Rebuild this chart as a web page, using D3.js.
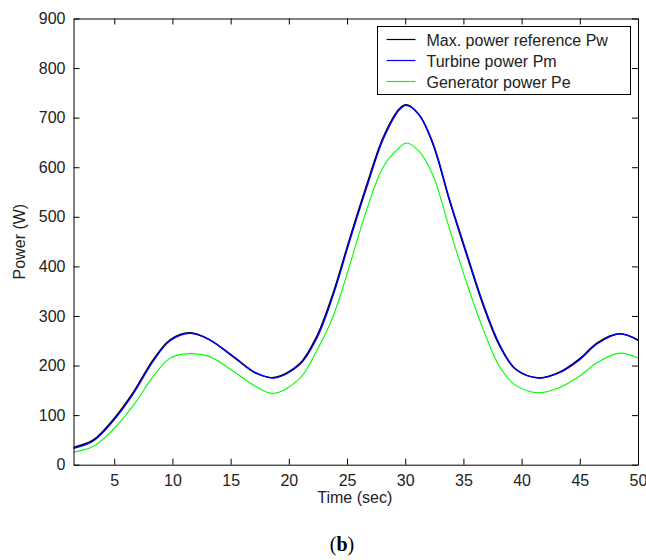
<!DOCTYPE html>
<html>
<head>
<meta charset="utf-8">
<script src="https://cdn.jsdelivr.net/npm/d3@7"></script>
<style>
	body { margin: 0; background: #fff; }
	svg text { font-family: "Liberation Sans", Arial, sans-serif; fill: #222; }
</style>
</head>
<body>
<svg width="646" height="560"></svg>
<script>
// values
var time = [1.5, 3.2, 4.9, 6.6, 8.35, 9.8, 11.5, 13.2, 15.2, 17.2, 18.7, 20.9, 22.4, 23.8, 25.2, 26.7,
	28.1, 29.5, 30.1, 31.2, 32.4, 33.8, 35.25, 36.7, 38.1, 39.5, 41.5, 43.2, 45, 46.5, 48.4, 50];
var pw = [35, 50, 91, 145, 212, 252, 266, 252, 218, 184, 176, 203, 259, 346, 454, 565,
	660, 718, 726, 705, 645, 533, 425, 321, 240, 192, 175, 186, 214, 246, 264, 251];
var pm = [33, 48, 88, 142, 209, 250, 265, 252, 219, 185, 175, 201, 255, 341, 449, 560,
	656, 716, 725, 706, 648, 536, 429, 325, 243, 193, 175, 185, 212, 244, 264, 252];
var pe = [25, 37, 71, 118, 178, 215, 224, 218, 189, 157, 144, 173, 230, 299, 400, 515,
	600, 640, 649, 632, 583, 476, 369, 273, 198, 160, 145, 155, 179, 206, 225, 215];

var xTicks = [5, 10, 15, 20, 25, 30, 35, 40, 45, 50];
var yTicks = [0, 100, 200, 300, 400, 500, 600, 700, 800, 900];

var seriesNames = ["Max. power reference Pw", "Turbine power Pm", "Generator power Pe"];
var seriesColors = ["#000000", "#0000ff", "#00ff00"];
var series = [pw, pm, pe];

var pLeft = 73.5, pRight = 638, pTop = 18.5, pBottom = 464.7;

var x = d3.scaleLinear().domain([1.5, 50]).range([pLeft, pRight]);
var y = d3.scaleLinear().domain([0, 900]).range([pBottom, pTop]);

var svg = d3.select("svg");

// curves
var line = d3.line()
	.x(function (d) { return x(d[0]); })
	.y(function (d) { return y(d[1]); })
	.curve(d3.curveCatmullRom.alpha(0.5));

series.forEach(function (vals, i) {
	svg.append("path")
		.datum(time.map(function (t, j) { return [t, vals[j]]; }))
		.attr("fill", "none")
		.attr("stroke", seriesColors[i])
		.attr("stroke-width", i == 2 ? 1.1 : 1.4)
		.attr("d", line);
});

// axes, ticks inward like matlab
var fs = 16;
svg.append("g")
	.attr("transform", "translate(0," + pBottom + ")")
	.call(d3.axisBottom(x).tickValues(xTicks).tickSizeInner(-6).tickSizeOuter(0).tickPadding(10))
	.call(function (g) { g.selectAll("text").attr("font-size", fs).attr("fill", "#222"); });
svg.append("g")
	.attr("transform", "translate(" + pLeft + ",0)")
	.call(d3.axisLeft(y).tickValues(yTicks).tickSizeInner(-6).tickSizeOuter(0).tickPadding(8))
	.call(function (g) { g.selectAll("text").attr("font-size", fs).attr("fill", "#222"); });
svg.append("g")
	.attr("transform", "translate(0," + pTop + ")")
	.call(d3.axisTop(x).tickValues(xTicks).tickSizeInner(-6).tickSizeOuter(0).tickFormat(""));
svg.append("g")
	.attr("transform", "translate(" + pRight + ",0)")
	.call(d3.axisRight(y).tickValues(yTicks).tickSizeInner(-6).tickSizeOuter(0).tickFormat(""));
svg.selectAll(".domain").attr("stroke", "#000");
svg.selectAll(".tick line").attr("stroke", "#000");

// axis labels
svg.append("text")
	.attr("x", (pLeft + pRight) / 2 - 1)
	.attr("y", 503)
	.attr("text-anchor", "middle")
	.attr("font-size", fs)
	.text("Time (sec)");
svg.append("text")
	.attr("transform", "translate(25," + (pTop + pBottom) / 2 + ") rotate(-90)")
	.attr("text-anchor", "middle")
	.attr("font-size", fs)
	.text("Power (W)");

// legend
var lg = svg.append("g").attr("transform", "translate(377.5,26.5)");
lg.append("rect")
	.attr("width", 253).attr("height", 68)
	.attr("fill", "#fff").attr("stroke", "#000");
seriesNames.forEach(function (name, i) {
	var yy = 13 + i * 21;
	lg.append("line")
		.attr("x1", 9).attr("x2", 38).attr("y1", yy).attr("y2", yy)
		.attr("stroke", seriesColors[i]).attr("stroke-width", 1.2);
	lg.append("text")
		.attr("x", 49).attr("y", yy + 6)
		.attr("font-size", fs)
		.text(name);
});

// caption
svg.append("text")
	.attr("x", 342)
	.attr("y", 551)
	.attr("text-anchor", "middle")
	.attr("font-size", 20)
	.style("font-family", "'Liberation Serif', 'Times New Roman', serif")
	.style("fill", "#000")
	.html("(<tspan font-weight='bold'>b</tspan>)");
</script>
</body>
</html>
